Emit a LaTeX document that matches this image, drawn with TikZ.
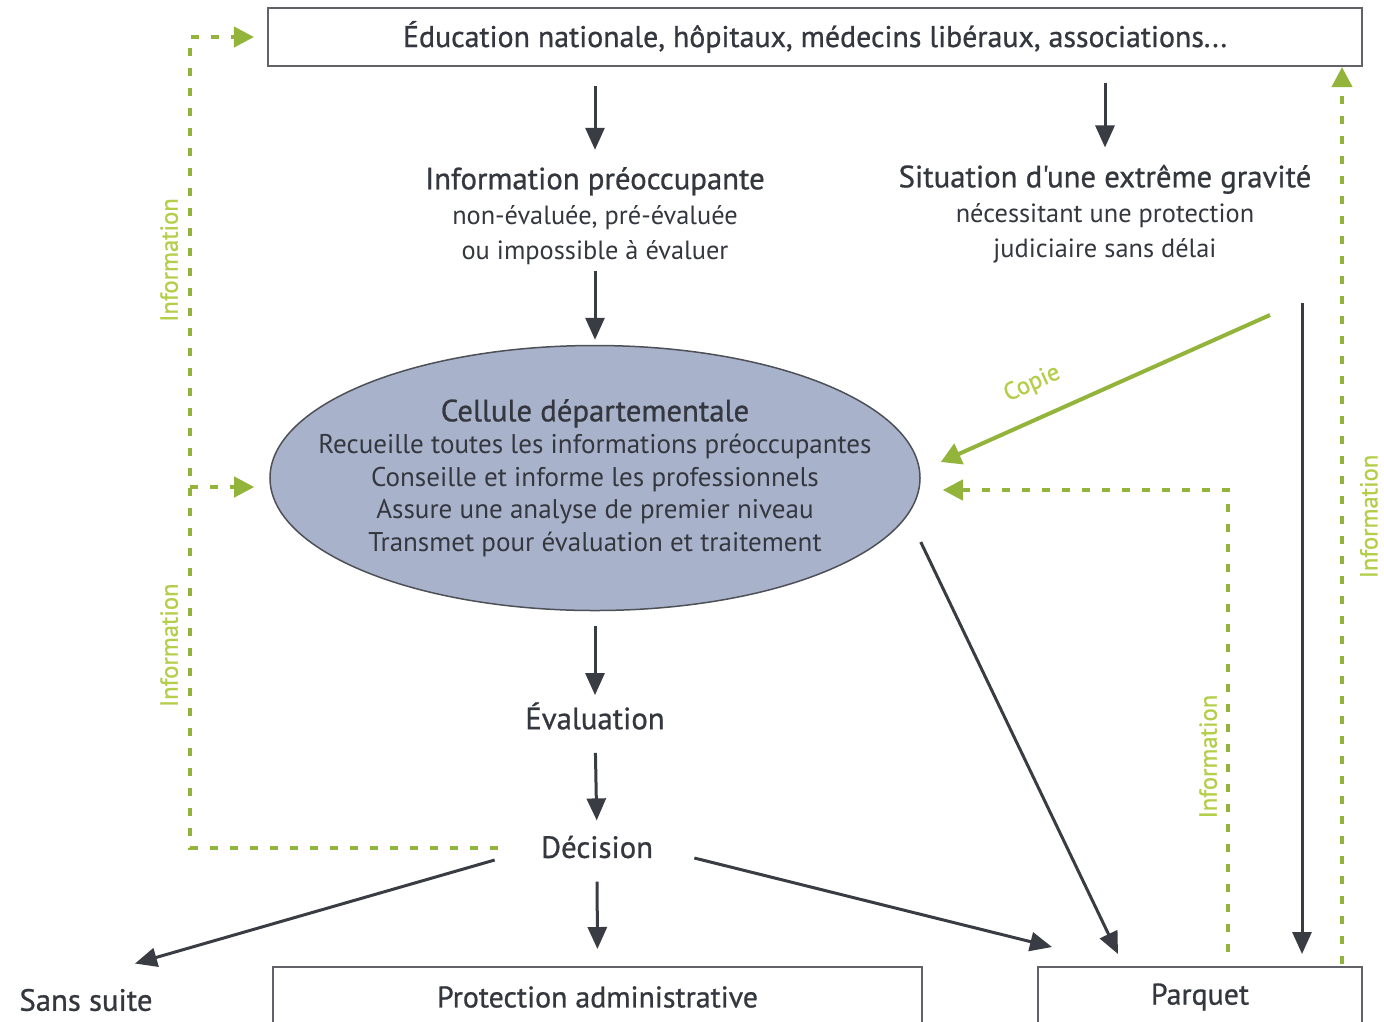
\documentclass[tikz,border=0pt]{standalone}
\usepackage{fontspec}
\setmainfont{PT Sans}
\newfontfamily\demigras{PT Sans}[FakeBold=0.8]
\usepackage{xcolor}
\usepackage{tikz}
\usetikzlibrary{positioning}
\usetikzlibrary{shapes.geometric}
\usetikzlibrary{arrows.meta}
\definecolor{texte}{HTML}{35373F}
\definecolor{trait}{HTML}{3A3C44}
\definecolor{vert}{HTML}{93B43A}
\definecolor{vertclair}{HTML}{B3CE48}
\definecolor{cellule}{HTML}{A8B3CB}

\begin{document}
\begin{tikzpicture}[x=0.2mm, y=-0.2mm,
			cadre/.style={draw=trait!80, line width=0.4mm, text=texte, inner sep=0, font=\demigras\fontsize{17}{20}\selectfont},
			etiquette/.style={text=texte, align=center, inner sep=0, font=\fontsize{17.5}{20}\selectfont},
			fleche/.style={draw=trait, line width=0.6mm, -{Triangle[length=4.4mm, width=3.8mm]}},
			info/.style={draw=vert, line width=0.8mm, dash pattern=on 1.6mm off 2.4mm, -{Triangle[length=4mm, width=4mm]}},
			legende/.style={text=vertclair, rotate=90, font=\demigras\fontsize{14}{16}\selectfont}]
			    		\useasboundingbox[fill=white] (0,0) rectangle (1384,1021);
			    		\node[cadre, minimum width=218.8mm, minimum height=11.6mm] (top) at (815,37) {Éducation nationale, hôpitaux, médecins libéraux, associations...};
			    		\node[etiquette] (info) at (595,216) {{\demigras Information préoccupante}\\{\fontsize{15}{19}\selectfont non-évaluée, pré-évaluée}\\{\fontsize{15}{19}\selectfont ou impossible à évaluer}};
			    		\node[etiquette] (grav) at (1105,214) {{\demigras Situation d'une extrême gravité}\\{\fontsize{15}{19}\selectfont nécessitant une protection}\\{\fontsize{15}{19}\selectfont judiciaire sans délai}};
			    		\node[ellipse, draw=trait!90, line width=0.3mm, fill=cellule, minimum width=130mm, minimum height=53mm, inner sep=0] (cell) at (595,478) {};
			    		\node[etiquette, font=\fontsize{15.4}{18.5}\selectfont] (celltxt) at (cell.center) {{\demigras\fontsize{17.5}{20}\selectfont Cellule départementale}\\Recueille toutes les informations préoccupantes\\Conseille et informe les professionnels\\Assure une analyse de premier niveau\\Transmet pour évaluation et traitement};
			    		\node[etiquette, font=\demigras\fontsize{17.5}{20}\selectfont] (eval) at (595,716) {Évaluation};
			    		\node[etiquette, font=\demigras\fontsize{17.5}{20}\selectfont] (dec) at (597,847) {Décision};
			    		\node[etiquette, font=\demigras\fontsize{17.5}{20}\selectfont] (sans) at (86,1000) {Sans suite};
			    		\node[cadre, minimum width=129.8mm, minimum height=12mm] (admin) at (597.5,997) {Protection administrative};
			    		\node[cadre, minimum width=64.8mm, minimum height=12mm] (parquet) at (1200,997) {Parquet};
			    		\coordinate (gauche) at (190,0);
			    		\coordinate (milieu) at (1228,0);
			    		\coordinate (droite) at (1342,0);
			    		\coordinate (haut) at (1302,303);
			    		\coordinate (copie) at (1270,315);
			    		\coordinate (branche) at ([shift={(-15,9)}]cell.west);
			    		\draw[fleche, shorten <=3.8mm, shorten >=3.4mm] (top.south -| info.north) -- (info.north);
			    		\draw[fleche, shorten <=3.2mm, shorten >=3.4mm] (top.south -| grav.north) -- (grav.north);
			    		\draw[fleche, shorten <=1.2mm, shorten >=1mm] (info.south) -- (cell.north);
			    		\draw[fleche, shorten <=3mm, shorten >=1.4mm] (cell.south) -- (eval.north);
			    		\draw[fleche, shorten <=4.6mm, shorten >=3mm] (eval.south) -- (dec.north);
			    		\draw[fleche, shorten <=4.6mm, shorten >=3.4mm] (dec.south) -- (admin.north);
			    		\draw[fleche] ([shift={(-46,13)}]dec.west) -- ([shift={(49,-25)}]sans.north);
			    		\draw[fleche] ([shift={(41,11)}]dec.east) -- ([shift={(15,-19)}]parquet.north west);
			    		\draw[fleche] ([shift={(0,64)}]cell.east) -- ([shift={(-82,-12)}]parquet.north);
			    		\draw[fleche, shorten >=2.4mm] (haut) -- (haut |- parquet.north);
			    		\draw[draw=vert, line width=0.8mm, -{Triangle[length=4mm, width=4.4mm]}] (copie) -- ([shift={(20,-16)}]cell.east) node[pos=0.68, sloped, above=3mm, text=vertclair, font=\demigras\fontsize{14}{16}\selectfont] {Copie};
			    		\draw[info] ([shift={(-43,1)}]dec.west) -| node[pos=0.625, legende, anchor=south, inner sep=2mm] {Information} node[pos=0.8625, legende, anchor=south, inner sep=2mm] {Information} (gauche |- top.west) -- ([shift={(-13,0)}]top.west);
			    		\draw[info] (gauche |- branche) -- (branche);
			    		\draw[info, shorten <=2.8mm] (parquet.north -| milieu) |- node[pos=0.22, legende, anchor=south, inner sep=1.8mm] {Information} ([shift={(22,12)}]cell.east);
			    		\draw[info, shorten <=0.4mm] (parquet.north -| droite) -- node[midway, legende, anchor=north, inner sep=3.2mm] {Information} (top.south -| droite);
			    	\end{tikzpicture}
\end{document}
